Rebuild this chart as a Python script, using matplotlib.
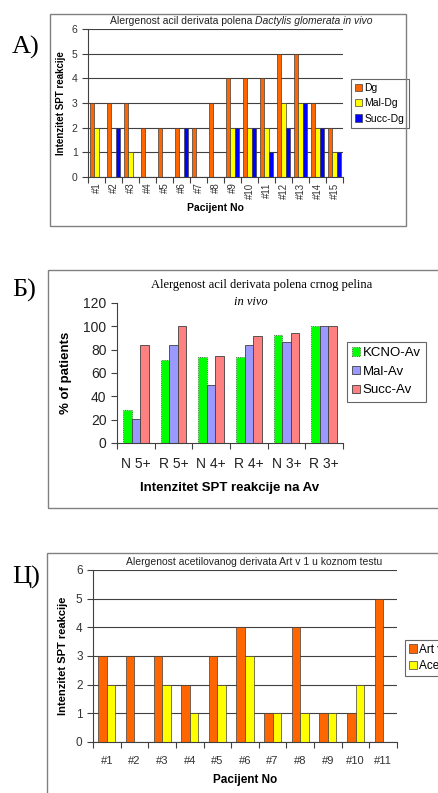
import matplotlib
matplotlib.use("Agg")
import matplotlib.pyplot as plt
import numpy as np
from matplotlib.patches import Rectangle

# ---------------- data ----------------
a_patients = ["#1", "#2", "#3", "#4", "#5", "#6", "#7", "#8", "#9", "#10",
              "#11", "#12", "#13", "#14", "#15"]
a_dg = [3, 3, 3, 2, 2, 2, 2, 3, 4, 4, 4, 5, 5, 3, 2]
a_mal = [2, 0, 1, 0, 0, 0, 0, 0, 2, 2, 2, 3, 3, 2, 1]
a_succ = [0, 2, 0, 0, 0, 2, 0, 0, 2, 2, 1, 2, 3, 2, 1]
a_series = ["Dg", "Mal-Dg", "Succ-Dg"]

b_cats = ["N 5+", "R 5+", "N 4+", "R 4+", "N 3+", "R 3+"]
b_kcno = [28, 71, 74, 74, 93, 100]
b_mal = [21, 84, 50, 84, 87, 100]
b_succ = [84, 100, 75, 92, 94, 100]
b_series = ["KCNO-Av", "Mal-Av", "Succ-Av"]

c_patients = ["#1", "#2", "#3", "#4", "#5", "#6", "#7", "#8", "#9", "#10", "#11"]
c_art = [3, 3, 3, 2, 3, 4, 1, 4, 1, 1, 5]
c_acet = [2, 0, 2, 1, 2, 3, 1, 1, 1, 2, 0]
c_series = ["Art v 1", "Acet-Art v 1"]

# ---------------- layout helpers ----------------
W, H = 438, 793
fig = plt.figure(figsize=(W / 100, H / 100), dpi=100)
fig.patch.set_facecolor("white")

def rect(l, t, r, b):
    return [l / W, 1 - b / H, (r - l) / W, (b - t) / H]

def fx(x):
    return x / W

def fy(y):
    return 1 - y / H

def box(l, t, r, b):
    fig.patches.append(Rectangle((l / W, 1 - b / H), (r - l) / W, (b - t) / H,
                                 transform=fig.transFigure, fill=False,
                                 edgecolor="#808080", lw=1.0))

SANS = "Liberation Sans"
SERIF = "Liberation Serif"
ORANGE = "#FF6600"
YELLOW = "#FFFF00"
BLUE = "#0000FF"
EDGE = "#404040"

def excel_axes(ax, ymax, ystep, grid=True):
    ax.set_ylim(0, ymax)
    ax.set_yticks(np.arange(0, ymax + 0.001, ystep))
    for s in ["top", "right"]:
        ax.spines[s].set_visible(False)
    ax.spines["left"].set_color("#404040")
    ax.spines["bottom"].set_color("#404040")
    ax.spines["left"].set_linewidth(0.8)
    ax.spines["bottom"].set_linewidth(0.8)
    if grid:
        ax.yaxis.grid(True, color="#404040", lw=0.8)
        ax.set_axisbelow(True)
    ax.tick_params(direction="out", length=4, width=0.8, color="#404040",
                   labelcolor="#333333")

# ================= Panel A =================
box(50, 14, 406, 226)
fig.text(fx(12), fy(47), "A)", fontsize=19, family=SERIF, va="center", ha="left")
axA = fig.add_axes(rect(88, 29, 343, 177))
n = len(a_patients)
x = np.arange(n)
bw = 0.24
for i, (vals, col) in enumerate(zip([a_dg, a_mal, a_succ], [ORANGE, YELLOW, BLUE])):
    v = np.array(vals, dtype=float)
    axA.bar(x + (i - 1) * bw, np.where(v > 0, v, np.nan), bw, color=col,
            edgecolor=EDGE, lw=0.5, label=a_series[i])
axA.set_xlim(-0.5, n - 0.5)
excel_axes(axA, 6, 1)
axA.set_xticks(np.arange(-0.5, n, 1), minor=False)
axA.set_xticklabels([])
axA.set_xticks(x, minor=True)
axA.set_xticklabels(a_patients, minor=True, rotation=90, fontsize=7, family=SANS)
axA.tick_params(axis="x", which="minor", length=0, pad=4, labelcolor="#333333")
axA.tick_params(axis="y", labelsize=7.5)
for lab in axA.get_yticklabels():
    lab.set_family(SANS)
axA.set_ylabel("Intenzitet SPT reakcije", fontsize=7, fontweight="bold",
               family=SANS, labelpad=4)
axA.set_xlabel("Pacijent No", fontsize=7.5, fontweight="bold", family=SANS, labelpad=3)
legA = axA.legend(loc="upper left", bbox_to_anchor=(rect(351, 79, 403, 125)[0],
                  fy(79)), bbox_transform=fig.transFigure, fontsize=7.5,
                  prop={"family": SANS, "size": 7.5}, frameon=True, fancybox=False,
                  edgecolor="#404040", handlelength=0.7, handleheight=0.7,
                  handletextpad=0.2, borderpad=0.4, labelspacing=0.5,
                  borderaxespad=0)
legA.get_frame().set_linewidth(0.8)

# ================= Panel B =================
box(48, 270, 445, 508)
fig.text(fx(12), fy(290), "Б)", fontsize=19, family=SERIF, va="center", ha="left")
axB = fig.add_axes(rect(117, 303, 343, 443))
m = len(b_cats)
xb = np.arange(m)
bwb = 0.23
b_cols = ["#00FF00", "#9999FF", "#FF8080"]
for i, (vals, col) in enumerate(zip([b_kcno, b_mal, b_succ], b_cols)):
    bars = axB.bar(xb + (i - 1) * bwb, vals, bwb, color=col, edgecolor=EDGE,
                   lw=0.6, label=b_series[i])
    if i == 0:
        for p in bars:
            p.set_linestyle(":")
axB.set_xlim(-0.5, m - 0.5)
excel_axes(axB, 120, 20, grid=False)
axB.set_xticks(np.arange(-0.5, m, 1))
axB.set_xticklabels([])
axB.set_xticks(xb, minor=True)
axB.set_xticklabels(b_cats, minor=True, fontsize=10, family=SANS)
axB.tick_params(axis="x", which="minor", length=0, pad=10, labelcolor="#222222")
axB.tick_params(axis="y", labelsize=10, labelcolor="#222222")
for lab in axB.get_yticklabels():
    lab.set_family(SANS)
axB.set_ylabel("% of patients", fontsize=9.5, fontweight="bold", family=SANS,
               labelpad=8)
axB.set_xlabel("Intenzitet SPT reakcije na Av", fontsize=9.5, fontweight="bold",
               family=SANS, labelpad=8)
fig.text(fx(262), fy(285), "Alergenost acil derivata polena crnog pelina",
         fontsize=9, family=SERIF, ha="center", va="center")
fig.text(fx(251), fy(302), "in vivo", fontsize=9, family=SERIF, style="italic",
         ha="center", va="center")
legB = axB.legend(loc="upper left", bbox_to_anchor=(fx(347), fy(342)),
                  bbox_transform=fig.transFigure,
                  prop={"family": SANS, "size": 9.5}, frameon=True, fancybox=False,
                  edgecolor="#404040", handlelength=0.6, handleheight=0.6,
                  handletextpad=0.2, borderpad=0.4, labelspacing=0.5,
                  borderaxespad=0)
legB.get_frame().set_linewidth(0.8)

# ================= Panel C =================
box(47, 553, 445, 800)
fig.text(fx(12), fy(577), "Ц)", fontsize=19, family=SERIF, va="center", ha="left")
axC = fig.add_axes(rect(93, 570, 397, 742))
k = len(c_patients)
xc = np.arange(k)
bwc = 0.31
for i, (vals, col) in enumerate(zip([c_art, c_acet], [ORANGE, YELLOW])):
    v = np.array(vals, dtype=float)
    axC.bar(xc + (i - 0.5) * bwc, np.where(v > 0, v, np.nan), bwc, color=col,
            edgecolor=EDGE, lw=0.5, label=c_series[i])
axC.set_xlim(-0.5, k - 0.5)
excel_axes(axC, 6, 1)
axC.set_xticks(np.arange(-0.5, k, 1))
axC.set_xticklabels([])
axC.set_xticks(xc, minor=True)
axC.set_xticklabels(c_patients, minor=True, fontsize=8, family=SANS)
axC.tick_params(axis="x", which="minor", length=0, pad=10, labelcolor="#333333")
axC.tick_params(axis="y", labelsize=8.5)
for lab in axC.get_yticklabels():
    lab.set_family(SANS)
axC.set_ylabel("Intenzitet SPT reakcije", fontsize=8, fontweight="bold",
               family=SANS, labelpad=6)
axC.set_xlabel("Pacijent No", fontsize=8.5, fontweight="bold", family=SANS,
               labelpad=6)
fig.text(fx(254), fy(562), "Alergenost acetilovanog derivata Art v 1 u koznom testu",
         fontsize=7.5, family=SANS, ha="center", va="center", color="#222222")
legC = axC.legend(loc="upper left", bbox_to_anchor=(fx(405), fy(640)),
                  bbox_transform=fig.transFigure,
                  prop={"family": SANS, "size": 8.5}, frameon=True, fancybox=False,
                  edgecolor="#404040", handlelength=0.7, handleheight=0.7,
                  handletextpad=0.2, borderpad=0.3, labelspacing=0.4,
                  borderaxespad=0)
legC.get_frame().set_linewidth(0.8)
legC.set_clip_on(False)

# ---- Panel A title with mixed italic (placed via renderer) ----
fig.canvas.draw()
r = fig.canvas.get_renderer()
t1 = fig.text(0, fy(21), "Alergenost acil derivata polena ", fontsize=7.5,
              family=SANS, ha="left", va="center", color="#222222")
t2 = fig.text(0, fy(21), "Dactylis glomerata in vivo", fontsize=7.5, family=SANS,
              style="italic", ha="left", va="center", color="#222222")
w1 = t1.get_window_extent(r).width
w2 = t2.get_window_extent(r).width
start = 241 - (w1 + w2) / 2
t1.set_x(fx(start))
t2.set_x(fx(start + w1))

fig.savefig("out.png", dpi=100)
